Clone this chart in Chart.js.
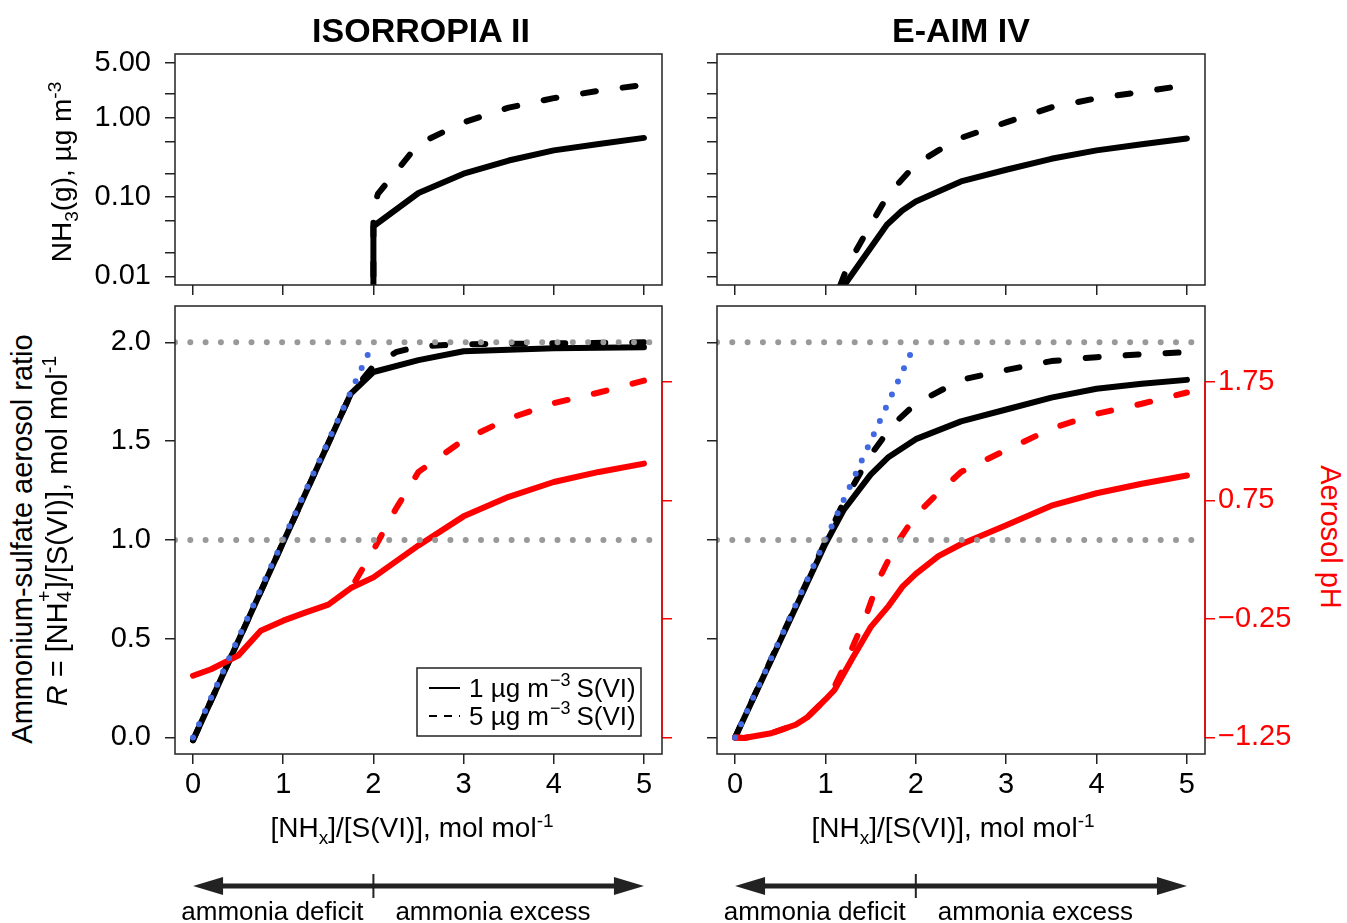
<!DOCTYPE html>
<html>
<head>
<meta charset="utf-8">
<title>NH3 partitioning, ISORROPIA II vs E-AIM IV</title>
<script src="https://cdn.jsdelivr.net/npm/chart.js"></script>
<style>
  body { margin: 0; background: #fff; }
  #page { position: relative; width: 1347px; height: 923px; overflow: hidden; background: #fff;
          font-family: "Liberation Sans", Arial, sans-serif; color: #000; }
  canvas { position: absolute; }
  .lbl { position: absolute; white-space: nowrap; font-size: 28px; line-height: 1;
         transform: translate(-50%, -50%); }
  .up { transform: translate(-50%, -50%) rotate(-90deg); }
  .down { transform: translate(-50%, -50%) rotate(90deg); }
  .big { font-size: 29px; }
  .ttl { font-weight: bold; font-size: 34px; }
  sub, sup { font-size: 68%; line-height: 0; }
  .st { display: inline-block; position: relative; width: 0.45em; height: 1em; }
  .st .a { position: absolute; left: 0.02em; top: -0.14em; font-size: 68%; }
  .st .b { position: absolute; left: 0.02em; bottom: -0.4em; font-size: 68%; }
</style>
</head>
<body>
<div id="page">
  <canvas id="tl"></canvas>
  <canvas id="tr"></canvas>
  <canvas id="bl"></canvas>
  <canvas id="br"></canvas>

  <div class="lbl ttl" style="left:421px; top:30px;">ISORROPIA II</div>
  <div class="lbl ttl" style="left:961px; top:30px;">E-AIM IV</div>
  <div class="lbl up" style="left:62px; top:172px;">NH<sub>3</sub>(g), µg m<sup>-3</sup></div>
  <div class="lbl up big" style="left:22px; top:539px;">Ammonium-sulfate aerosol ratio</div>
  <div class="lbl up big" style="left:55px; top:531px;"><i>R</i> = [NH<span class="st"><span class="a">+</span><span class="b">4</span></span>]/[S(VI)], mol mol<sup>-1</sup></div>
  <div class="lbl" style="left:412px; top:828px;">[NH<sub>x</sub>]/[S(VI)], mol mol<sup>-1</sup></div>
  <div class="lbl" style="left:953px; top:828px;">[NH<sub>x</sub>]/[S(VI)], mol mol<sup>-1</sup></div>
  <div class="lbl down big" style="left:1330px; top:537px; color:#f00;">Aerosol pH</div>
</div>

<script>
// axes
const xMin = -0.2, xMax = 5.2;
const xTicks = [0, 1, 2, 3, 4, 5];
const nh3Min = 0.0078, nh3Max = 6.41;
const nh3Ticks = [0.01, 0.02, 0.05, 0.1, 0.2, 0.5, 1, 2, 5];
const nh3Labeled = [0.01, 0.1, 1, 5];
const ratioMin = -0.084, ratioMax = 2.184;
const ratioTicks = [0, 0.5, 1, 1.5, 2];
const phMin = -1.39, phMax = 2.39;
const phTicks = [-1.25, -0.25, 0.75, 1.75];
const refLevels = [1, 2];
const idealX = [0, 2], idealR = [0, 2];

// ISORROPIA II, NH3(g)  (1 and 5 ug m-3 S(VI))
const isoGasX1 = [2, 2, 2.5, 3, 3.5, 4, 4.5, 5];
const isoGasY1 = [0.001, 0.043, 0.113, 0.198, 0.29, 0.39, 0.47, 0.56];
const isoGasX5 = [2, 2, 2.05, 2.5, 3, 3.5, 4, 4.5, 5];
const isoGasY5 = [0.001, 0.072, 0.11, 0.47, 0.88, 1.35, 1.78, 2.2, 2.62];

// E-AIM IV, NH3(g)
const eaimGasX1 = [1.2, 1.68, 1.85, 2, 2.5, 3, 3.5, 4, 4.5, 5];
const eaimGasY1 = [0.0075, 0.045, 0.068, 0.088, 0.158, 0.222, 0.305, 0.39, 0.465, 0.55];
const eaimGasX5 = [1.16, 1.25, 1.5, 1.7, 2, 2.25, 2.5, 3, 3.5, 4, 4.5, 5];
const eaimGasY5 = [0.0075, 0.014, 0.045, 0.11, 0.26, 0.39, 0.56, 0.88, 1.36, 1.77, 2.13, 2.6];

// ISORROPIA II, R and pH
const isoRX1 = [0, 1.75, 2, 2.5, 3, 4, 5];
const isoRY1 = [-0.014, 1.74, 1.85, 1.91, 1.955, 1.97, 1.975];
const isoRX5 = [0, 1.75, 2, 2.25, 2.5, 3, 4, 5];
const isoRY5 = [-0.014, 1.74, 1.88, 1.95, 1.98, 1.99, 1.995, 2.0];
const isoPhX1 = [0, 0.2, 0.5, 0.75, 1, 1.25, 1.5, 1.75, 2, 2.5, 3, 3.5, 4, 4.5, 5];
const isoPhY1 = [-0.73, -0.675, -0.56, -0.35, -0.265, -0.195, -0.13, 0.01, 0.10, 0.37, 0.615, 0.78, 0.905, 0.99, 1.06];
const isoPhX5 = [1.8, 2, 2.25, 2.5, 3, 3.5, 4, 4.5, 5];
const isoPhY5 = [0.07, 0.33, 0.68, 0.99, 1.26, 1.44, 1.57, 1.66, 1.76];

// E-AIM IV, R and pH
const eaimRX1 = [0, 1, 1.2, 1.5, 1.7, 2, 2.5, 3, 3.5, 4, 4.5, 5];
const eaimRY1 = [0, 0.98, 1.15, 1.33, 1.42, 1.51, 1.60, 1.66, 1.72, 1.765, 1.79, 1.81];
const eaimRX5 = [0, 1.2, 1.5, 1.75, 2, 2.5, 3, 3.5, 4, 4.5, 5];
const eaimRY5 = [0, 1.19, 1.43, 1.585, 1.69, 1.81, 1.86, 1.905, 1.925, 1.94, 1.95];
const eaimPhX1 = [0, 0.1, 0.4, 0.67, 0.8, 1, 1.1, 1.3, 1.5, 1.7, 1.85, 2, 2.25, 2.5, 3, 3.5, 4, 4.5, 5];
const eaimPhY1 = [-1.25, -1.255, -1.215, -1.143, -1.08, -0.93, -0.85, -0.58, -0.32, -0.14, 0.02, 0.13, 0.28, 0.38, 0.54, 0.705, 0.81, 0.89, 0.96];
const eaimPhX5 = [0, 0.1, 0.4, 0.67, 0.8, 1, 1.1, 1.2, 1.45, 1.6, 1.8, 2, 2.25, 2.5, 3, 3.5, 4, 4.5, 5];
const eaimPhY5 = [-1.25, -1.255, -1.215, -1.143, -1.08, -0.93, -0.82, -0.665, -0.222, 0.10, 0.40, 0.625, 0.815, 0.99, 1.175, 1.355, 1.48, 1.565, 1.66];

const legendLabels = ['1 µg m', '5 µg m'];

const FONT = '"Liberation Sans", Arial, sans-serif';
const INK = '#222';
const RED = '#ff0000';
const DASH = [13, 27];

const pts = (xs, ys) => xs.map((x, i) => ({ x: x, y: ys[i] }));

function line(xs, ys, color, opts) {
  return Object.assign({
    data: pts(xs, ys),
    showLine: true,
    borderColor: color,
    borderWidth: 6,
    pointRadius: 0,
    tension: 0,
    borderCapStyle: 'round',
    borderJoinStyle: 'round',
    yAxisID: 'y'
  }, opts || {});
}

function refLines() {
  return refLevels.map(v => line([xMin, xMax], [v, v], '#999999', { borderWidth: 6, borderDash: [0, 15.3] }));
}

function place(id, frame, pad) {
  const cv = document.getElementById(id);
  cv.width = frame[2] - frame[0] + pad[0] + pad[2];
  cv.height = frame[3] - frame[1] + pad[1] + pad[3];
  cv.style.left = (frame[0] - pad[0]) + 'px';
  cv.style.top = (frame[1] - pad[1]) + 'px';
  return cv;
}

const tickGrid = (c) => ({ drawOnChartArea: false, drawTicks: true, tickLength: 10,
  color: c, lineWidth: 1.5, tickColor: c, tickWidth: 1.5 });

function xScale(labels, h) {
  return {
    type: 'linear', min: xMin, max: xMax,
    grid: tickGrid(INK), border: { display: false },
    afterBuildTicks: s => { s.ticks = xTicks.map(v => ({ value: v })); },
    afterFit: s => { s.height = h; },
    ticks: { autoSkip: false, maxRotation: 0, minRotation: 0, padding: 4, color: '#000',
      font: { family: FONT, size: 29 },
      callback: v => labels ? String(v) : '' }
  };
}

function gasScale(labels) {
  return {
    type: 'logarithmic', min: nh3Min, max: nh3Max, position: 'left',
    grid: tickGrid(INK), border: { display: false },
    afterBuildTicks: s => { s.ticks = nh3Ticks.map(v => ({ value: v })); },
    afterFit: s => { s.width = 90; },
    ticks: { autoSkip: false, padding: 14, color: '#000', font: { family: FONT, size: 29 },
      callback: v => (labels && nh3Labeled.includes(v)) ? v.toFixed(2) : '' }
  };
}

function ratioScale(labels) {
  return {
    type: 'linear', min: ratioMin, max: ratioMax, position: 'left',
    grid: tickGrid(INK), border: { display: false },
    afterBuildTicks: s => { s.ticks = ratioTicks.map(v => ({ value: v })); },
    afterFit: s => { s.width = 90; },
    ticks: { autoSkip: false, padding: 14, color: '#000', font: { family: FONT, size: 29 },
      callback: v => labels ? v.toFixed(1) : '' }
  };
}

function phScale(labels) {
  return {
    type: 'linear', min: phMin, max: phMax, position: 'right',
    grid: tickGrid(RED), border: { display: false },
    afterBuildTicks: s => { s.ticks = phTicks.map(v => ({ value: v })); },
    afterFit: s => { s.width = 90; },
    ticks: { autoSkip: false, padding: 3, color: RED, font: { family: FONT, size: 29 },
      callback: v => labels ? v.toFixed(2).replace('-', '\u2212') : '' }
  };
}

// box round the plot region, red pH axis line
const framePlugin = {
  id: 'frame',
  afterDraw(chart) {
    const { ctx, chartArea: a } = chart;
    ctx.save();
    ctx.strokeStyle = INK;
    ctx.lineWidth = 1.5;
    ctx.strokeRect(a.left, a.top, a.right - a.left, a.bottom - a.top);
    const ph = chart.scales.y2;
    if (ph) {
      ctx.strokeStyle = RED;
      ctx.beginPath();
      ctx.moveTo(a.right, ph.getPixelForValue(phTicks[phTicks.length - 1]));
      ctx.lineTo(a.right, ph.getPixelForValue(phTicks[0]));
      ctx.stroke();
    }
    ctx.restore();
  }
};

// deficit / excess arrow under the panel
const arrowPlugin = {
  id: 'arrow',
  afterDraw(chart) {
    const { ctx, chartArea: a } = chart;
    const xs = chart.scales.x;
    const x0 = xs.getPixelForValue(xTicks[0]);
    const x5 = xs.getPixelForValue(xTicks[xTicks.length - 1]);
    const xm = xs.getPixelForValue(2);
    const y = a.bottom + 132, head = 30, half = 9;
    ctx.save();
    ctx.strokeStyle = INK; ctx.fillStyle = INK;
    ctx.lineWidth = 5;
    ctx.beginPath(); ctx.moveTo(x0 + head - 2, y); ctx.lineTo(x5 - head + 2, y); ctx.stroke();
    ctx.beginPath(); ctx.moveTo(x0, y); ctx.lineTo(x0 + head, y - half); ctx.lineTo(x0 + head, y + half); ctx.closePath(); ctx.fill();
    ctx.beginPath(); ctx.moveTo(x5, y); ctx.lineTo(x5 - head, y - half); ctx.lineTo(x5 - head, y + half); ctx.closePath(); ctx.fill();
    ctx.lineWidth = 2;
    ctx.beginPath(); ctx.moveTo(xm, y - 12); ctx.lineTo(xm, y + 12); ctx.stroke();
    ctx.fillStyle = '#000';
    ctx.font = '26px ' + FONT;
    ctx.textBaseline = 'alphabetic';
    ctx.textAlign = 'right';
    ctx.fillText('ammonia deficit', xm - 10, a.bottom + 166);
    ctx.textAlign = 'left';
    ctx.fillText('ammonia excess', xm + 22, a.bottom + 166);
    ctx.restore();
  }
};

const legendPlugin = {
  id: 'boxlegend',
  afterDraw(chart) {
    const { ctx, chartArea: a } = chart;
    const right = a.right - 21, bottom = a.bottom - 18, w = 224, h = 68;
    const left = right - w, top = bottom - h;
    ctx.save();
    ctx.strokeStyle = INK; ctx.lineWidth = 1.5;
    ctx.strokeRect(left, top, w, h);
    ctx.strokeStyle = '#000'; ctx.lineWidth = 2;
    legendLabels.forEach((t, i) => {
      const yy = top + 20 + i * 28;
      ctx.setLineDash(i === 0 ? [] : [8, 7]);
      ctx.beginPath(); ctx.moveTo(left + 12, yy); ctx.lineTo(left + 43, yy); ctx.stroke();
      ctx.setLineDash([]);
      ctx.fillStyle = '#000';
      ctx.textAlign = 'left'; ctx.textBaseline = 'alphabetic';
      ctx.font = '26px ' + FONT;
      let x = left + 52;
      ctx.fillText(t, x, yy + 9);
      x += ctx.measureText(t).width + 1;
      ctx.font = '18px ' + FONT;
      ctx.fillText('\u22123', x, yy - 2);
      x += ctx.measureText('\u22123').width + 6;
      ctx.font = '26px ' + FONT;
      ctx.fillText('S(VI)', x, yy + 9);
    });
    ctx.restore();
  }
};

function baseOptions(scales, bottomPad, top) {
  return {
    responsive: false,
    animation: false,
    events: [],
    layout: { padding: { left: 10, right: 10, top: top, bottom: bottomPad } },
    plugins: { legend: { display: false }, tooltip: { enabled: false } },
    scales: scales
  };
}

// top row: NH3(g)
new Chart(place('tl', [175, 54, 662, 285], [100, 40, 10, 50]), {
  type: 'scatter',
  data: { datasets: [
    line(isoGasX5, isoGasY5, '#000', { borderDash: DASH }),
    line(isoGasX1, isoGasY1, '#000')
  ] },
  options: baseOptions({ x: xScale(false, 50), y: gasScale(true) }, 0, 40),
  plugins: [framePlugin]
});

new Chart(place('tr', [717, 54, 1205, 285], [100, 40, 10, 50]), {
  type: 'scatter',
  data: { datasets: [
    line(eaimGasX5, eaimGasY5, '#000', { borderDash: DASH }),
    line(eaimGasX1, eaimGasY1, '#000')
  ] },
  options: baseOptions({ x: xScale(false, 50), y: gasScale(false) }, 0, 40),
  plugins: [framePlugin]
});

// bottom row: R and pH
new Chart(place('bl', [175, 306, 662, 754], [100, 40, 100, 169]), {
  type: 'scatter',
  data: { datasets: refLines().concat([
    line(idealX, idealR, '#4169e1', { borderWidth: 6, borderDash: [0, 14.5] }),
    line(isoPhX5, isoPhY5, RED, { borderDash: DASH, yAxisID: 'y2' }),
    line(isoPhX1, isoPhY1, RED, { yAxisID: 'y2' }),
    line(isoRX5, isoRY5, '#000', { borderDash: DASH }),
    line(isoRX1, isoRY1, '#000')
  ]) },
  options: baseOptions({ x: xScale(true, 60), y: ratioScale(true), y2: phScale(false) }, 109, 40),
  plugins: [framePlugin, legendPlugin, arrowPlugin]
});

new Chart(place('br', [717, 306, 1205, 754], [100, 40, 100, 169]), {
  type: 'scatter',
  data: { datasets: refLines().concat([
    line(idealX, idealR, '#4169e1', { borderWidth: 6, borderDash: [0, 14.5] }),
    line(eaimPhX5, eaimPhY5, RED, { borderDash: DASH, yAxisID: 'y2' }),
    line(eaimPhX1, eaimPhY1, RED, { yAxisID: 'y2' }),
    line(eaimRX5, eaimRY5, '#000', { borderDash: DASH }),
    line(eaimRX1, eaimRY1, '#000')
  ]) },
  options: baseOptions({ x: xScale(true, 60), y: ratioScale(false), y2: phScale(true) }, 109, 40),
  plugins: [framePlugin, arrowPlugin]
});
</script>
</body>
</html>
